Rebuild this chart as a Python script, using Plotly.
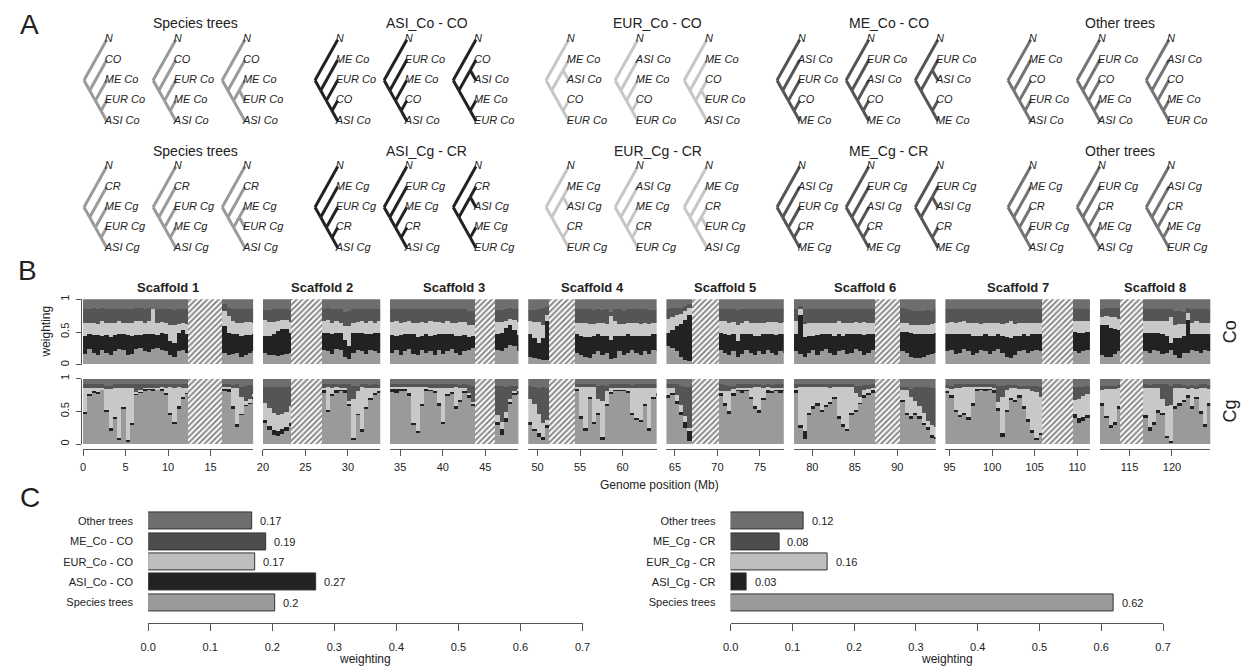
import plotly.graph_objects as go

W, H = 1249, 667
FONT = "Liberation Sans, Arial, Helvetica, sans-serif"
INK = "#222222"

# ------------------------------------------------------------------ Panel A data
TIP_LABELS = {
    "Co": {"N": "N", "O": "CO", "ME": "ME Co", "EUR": "EUR Co", "ASI": "ASI Co"},
    "Cg": {"N": "N", "O": "CR", "ME": "ME Cg", "EUR": "EUR Cg", "ASI": "ASI Cg"},
}
GROUP_TITLES = {
    "Co": ["Species trees", "ASI_Co - CO", "EUR_Co - CO", "ME_Co - CO", "Other trees"],
    "Cg": ["Species trees", "ASI_Cg - CR", "EUR_Cg - CR", "ME_Cg - CR", "Other trees"],
}
GROUP_COLORS = ["#9a9a9a", "#222222", "#c6c6c6", "#555555", "#747474"]
TREES = [
    [("N", ("O", ("ME", ("EUR", "ASI")))), ("N", ("O", ("EUR", ("ME", "ASI")))), ("N", ("O", (("ME", "EUR"), "ASI")))],
    [("N", ("ME", ("EUR", ("O", "ASI")))), ("N", ("EUR", ("ME", ("O", "ASI")))), ("N", (("O", "ASI"), ("ME", "EUR")))],
    [("N", (("ME", "ASI"), ("O", "EUR"))), ("N", ("ASI", ("ME", ("O", "EUR")))), ("N", ("ME", (("O", "EUR"), "ASI")))],
    [("N", ("ASI", ("EUR", ("O", "ME")))), ("N", ("EUR", ("ASI", ("O", "ME")))), ("N", (("EUR", "ASI"), ("O", "ME")))],
    [("N", ("ME", ("O", ("EUR", "ASI")))), ("N", ("EUR", ("O", ("ME", "ASI")))), ("N", ("ASI", ("O", ("ME", "EUR"))))],
]

# ------------------------------------------------------------------ Panel B data
SCAFFOLDS = ["Scaffold 1", "Scaffold 2", "Scaffold 3", "Scaffold 4",
             "Scaffold 5", "Scaffold 6", "Scaffold 7", "Scaffold 8"]
SCAF_START = [0.0, 20.0, 33.8, 48.9, 64.0, 77.8, 94.5, 111.5]
SCAF_END = [20.0, 33.8, 48.9, 64.0, 77.8, 94.5, 111.5, 124.5]
CEN_START = [12.4, 23.3, 43.8, 51.4, 67.0, 87.3, 105.9, 113.8]
CEN_END = [16.4, 26.9, 46.2, 54.4, 70.2, 90.3, 109.5, 116.6]
WIN = 0.5  # Mb per window
# weights in percent, one list per chromosome arm (S1 left, S1 right, S2 left, ...)
CO_SPECIES = [
    [16, 24, 18, 15, 22, 17, 15, 21, 24, 22, 15, 16, 24, 25, 21, 19, 24, 25, 22, 21, 14, 12, 20, 22, 18],
    [18, 14, 16, 18, 12, 15, 17, 20],
    [18, 15, 14, 13, 14, 16, 18],
    [22, 20, 16, 24, 22, 12, 8, 18, 22, 20, 16, 22, 20, 18],
    [18, 22, 15, 20, 24, 16, 14, 22, 18, 20, 15, 22, 16, 20, 24, 18, 14, 20, 22, 25],
    [22, 20, 25, 30, 28, 20],
    [12, 10, 8, 6, 6],
    [18, 14, 12, 10, 16, 20, 14, 18, 8, 10, 20, 14, 18, 22, 18, 14, 20, 16, 22, 20],
    [28, 25, 20, 12, 6, 5],
    [22, 18, 15, 20, 12, 16, 22, 18, 14, 20, 16, 22, 18, 15, 20, 18],
    [20, 16, 12, 18, 22, 15, 20, 24, 18, 14, 20, 22, 16, 18, 24, 20, 15, 18, 22],
    [20, 18, 12, 10, 10, 12, 14, 16, 18],
    [20, 22, 16, 18, 24, 20, 14, 18, 22, 20, 16, 20, 24, 18, 12, 10, 14, 20, 22, 18, 20, 22, 20],
    [20, 18, 20, 22],
    [14, 12, 12, 16, 20],
    [20, 18, 22, 20, 16, 18, 22, 14, 10, 18, 18, 22, 20, 18, 22, 20],
]
CO_ASI = [
    [28, 22, 27, 30, 22, 28, 27, 24, 22, 24, 30, 28, 21, 20, 25, 28, 22, 20, 26, 25, 22, 20, 28, 30, 28],
    [40, 34, 30, 28, 32, 30, 28, 26],
    [25, 28, 33, 38, 40, 38, 30],
    [26, 28, 30, 24, 26, 26, 20, 30, 26, 28, 30, 24, 28, 30],
    [27, 22, 30, 26, 22, 30, 28, 22, 28, 24, 30, 24, 30, 26, 22, 26, 30, 25, 20, 18],
    [25, 28, 30, 30, 25, 25],
    [35, 30, 25, 35, 60],
    [28, 30, 30, 32, 28, 26, 30, 26, 30, 34, 24, 30, 28, 22, 26, 30, 24, 28, 24, 26],
    [20, 28, 38, 50, 62, 70],
    [26, 28, 30, 26, 24, 30, 24, 28, 30, 24, 30, 25, 28, 30, 26, 28],
    [26, 60, 30, 26, 22, 30, 26, 22, 28, 30, 26, 22, 30, 28, 22, 26, 30, 28, 24],
    [30, 32, 36, 36, 36, 34, 32, 30, 30],
    [26, 25, 30, 28, 22, 26, 30, 26, 22, 26, 28, 24, 22, 26, 30, 30, 30, 24, 24, 26, 26, 24, 26],
    [30, 30, 28, 28],
    [46, 48, 44, 38, 32],
    [28, 30, 26, 28, 30, 26, 10, 26, 30, 26, 50, 24, 26, 28, 24, 26],
]
CO_EUR = [
    [20, 18, 19, 17, 22, 19, 21, 18, 20, 18, 19, 20, 21, 22, 18, 19, 38, 19, 17, 18, 24, 28, 14, 12, 16],
    [24, 26, 20, 18, 20, 20, 20, 18],
    [25, 22, 18, 15, 14, 14, 17],
    [18, 20, 18, 18, 16, 20, 30, 16, 17, 18, 18, 20, 16, 18],
    [20, 22, 18, 19, 20, 18, 22, 21, 18, 22, 20, 19, 18, 20, 18, 20, 21, 20, 18, 17],
    [18, 17, 12, 10, 15, 20],
    [20, 25, 32, 20, 10],
    [18, 20, 22, 20, 18, 18, 20, 18, 36, 22, 18, 18, 18, 20, 19, 18, 20, 18, 17, 18],
    [22, 20, 17, 15, 14, 12],
    [18, 20, 18, 19, 25, 18, 20, 18, 20, 20, 18, 18, 19, 20, 18, 19],
    [20, 8, 20, 20, 20, 19, 18, 18, 18, 20, 20, 20, 18, 18, 19, 18, 20, 18, 18],
    [14, 13, 13, 14, 14, 14, 15, 16, 16],
    [18, 18, 18, 19, 20, 18, 20, 20, 18, 18, 20, 20, 18, 18, 22, 26, 18, 20, 18, 20, 18, 18, 18],
    [16, 18, 18, 16],
    [12, 14, 16, 18, 18],
    [18, 18, 18, 18, 20, 22, 40, 20, 22, 18, 10, 18, 20, 18, 18, 18],
]
CO_ME = [
    [20, 21, 22, 22, 20, 21, 22, 21, 19, 21, 20, 21, 20, 19, 21, 20, 0, 20, 20, 21, 24, 23, 22, 21, 22],
    [10, 12, 18, 20, 20, 20, 20, 20],
    [15, 18, 20, 18, 17, 17, 18],
    [18, 18, 20, 18, 20, 22, 24, 20, 19, 18, 20, 18, 20, 18],
    [20, 19, 22, 20, 19, 21, 20, 20, 20, 19, 20, 20, 21, 19, 21, 20, 20, 19, 22, 22],
    [18, 18, 18, 16, 17, 19],
    [16, 18, 20, 25, 12],
    [20, 20, 20, 22, 21, 20, 19, 22, 6, 18, 22, 20, 20, 20, 21, 22, 20, 21, 20, 20],
    [15, 14, 12, 10, 8, 5],
    [19, 18, 21, 20, 22, 20, 18, 20, 20, 20, 21, 20, 20, 19, 21, 20],
    [18, 6, 22, 20, 20, 20, 20, 20, 20, 20, 18, 20, 20, 20, 19, 20, 19, 20, 20],
    [22, 22, 22, 22, 22, 22, 22, 20, 20],
    [20, 20, 21, 20, 19, 21, 20, 20, 22, 20, 21, 20, 20, 22, 20, 18, 22, 20, 20, 20, 20, 20, 20],
    [18, 19, 19, 19],
    [12, 12, 14, 14, 16],
    [18, 18, 18, 18, 18, 18, 12, 22, 20, 18, 8, 20, 18, 20, 20, 20],
]
CG_SPECIES = [
    [47, 75, 80, 78, 84, 50, 22, 40, 7, 55, 4, 30, 77, 80, 83, 84, 82, 84, 83, 76, 45, 32, 55, 70, 78],
    [82, 80, 55, 28, 45, 60, 62, 70],
    [32, 22, 15, 13, 16, 20, 28],
    [80, 50, 75, 80, 82, 80, 60, 8, 45, 20, 55, 68, 76, 78],
    [80, 78, 82, 83, 75, 30, 18, 60, 82, 83, 80, 60, 32, 75, 78, 55, 65, 80, 72, 60],
    [30, 15, 35, 62, 75, 78],
    [30, 20, 12, 6, 25],
    [82, 40, 22, 70, 32, 45, 8, 60, 78, 82, 83, 82, 80, 45, 38, 35, 60, 22, 70, 75],
    [72, 75, 62, 45, 25, 5],
    [75, 60, 48, 75, 82, 80, 82, 70, 55, 48, 68, 80, 78, 82, 80, 82],
    [80, 25, 8, 45, 55, 60, 50, 58, 62, 70, 40, 28, 20, 45, 50, 62, 72, 76, 80],
    [65, 45, 40, 45, 40, 30, 22, 10, 8],
    [78, 72, 50, 42, 45, 38, 60, 82, 84, 83, 84, 80, 52, 12, 50, 68, 65, 72, 55, 35, 18, 6, 15],
    [40, 32, 36, 40],
    [60, 40, 25, 30, 55],
    [40, 20, 30, 48, 45, 10, 3, 55, 60, 65, 72, 55, 70, 48, 28, 60],
]
CG_ASI = [
    [3, 2, 1, 2, 0, 2, 3, 2, 3, 2, 2, 2, 1, 1, 2, 1, 3, 0, 2, 3, 3, 3, 3, 2, 1],
    [4, 5, 3, 3, 2, 1, 1, 2],
    [6, 6, 7, 7, 8, 6, 5],
    [3, 3, 2, 3, 2, 3, 2, 2, 2, 3, 2, 3, 3, 5],
    [4, 6, 3, 2, 3, 3, 3, 2, 2, 1, 2, 3, 3, 2, 2, 3, 3, 2, 3, 2],
    [5, 8, 5, 3, 4, 3],
    [4, 4, 5, 6, 4],
    [3, 3, 3, 2, 3, 3, 3, 2, 2, 2, 1, 2, 2, 3, 3, 3, 2, 3, 2, 3],
    [3, 4, 4, 5, 10, 15],
    [3, 3, 3, 3, 2, 3, 2, 3, 3, 4, 3, 3, 4, 2, 3, 2],
    [3, 5, 12, 3, 3, 3, 3, 2, 3, 3, 3, 3, 4, 3, 3, 2, 3, 3, 3],
    [3, 3, 3, 3, 3, 3, 4, 4, 4],
    [4, 3, 3, 3, 3, 4, 3, 2, 1, 2, 1, 3, 3, 5, 3, 3, 3, 3, 3, 4, 4, 4, 3],
    [6, 8, 6, 5],
    [3, 4, 5, 4, 3],
    [5, 6, 5, 4, 3, 3, 2, 3, 3, 3, 3, 3, 3, 3, 3, 3],
]
CG_EUR = [
    [37, 10, 6, 7, 3, 33, 60, 45, 77, 30, 81, 55, 2, 2, 2, 2, 2, 3, 3, 8, 40, 52, 30, 15, 8],
    [2, 3, 28, 55, 25, 5, 6, 5],
    [25, 27, 26, 25, 22, 24, 25],
    [4, 35, 10, 5, 3, 4, 5, 60, 35, 65, 30, 15, 8, 3],
    [4, 4, 3, 3, 10, 55, 67, 26, 4, 3, 5, 24, 52, 10, 7, 30, 18, 5, 4, 3],
    [10, 12, 10, 5, 3, 4],
    [35, 38, 30, 20, 8],
    [3, 45, 63, 16, 53, 22, 55, 20, 6, 3, 3, 3, 5, 38, 46, 48, 24, 62, 15, 8],
    [12, 8, 10, 10, 8, 5],
    [4, 18, 30, 6, 3, 4, 3, 14, 30, 36, 15, 5, 4, 3, 4, 3],
    [4, 58, 68, 40, 30, 25, 35, 28, 22, 15, 45, 57, 64, 40, 25, 8, 8, 6, 4],
    [15, 35, 30, 18, 15, 15, 10, 15, 15],
    [4, 10, 34, 42, 40, 46, 25, 4, 3, 3, 3, 4, 10, 55, 30, 15, 18, 10, 26, 45, 60, 70, 55],
    [22, 30, 32, 32],
    [20, 40, 55, 50, 28],
    [42, 60, 52, 35, 22, 45, 55, 28, 24, 18, 10, 28, 12, 36, 55, 22],
]
CG_ME = [
    [5, 5, 5, 5, 5, 5, 5, 5, 5, 5, 5, 5, 12, 9, 5, 5, 5, 5, 5, 5, 4, 5, 4, 5, 5],
    [4, 4, 5, 6, 16, 24, 22, 13],
    [25, 33, 40, 43, 42, 38, 30],
    [5, 4, 5, 4, 5, 5, 25, 20, 8, 4, 5, 5, 5, 5],
    [4, 4, 4, 4, 4, 4, 4, 4, 4, 5, 5, 5, 5, 5, 5, 4, 5, 5, 12, 25],
    [45, 55, 38, 20, 8, 5],
    [20, 26, 40, 56, 50],
    [4, 4, 4, 4, 4, 20, 25, 8, 6, 5, 5, 5, 5, 5, 5, 6, 6, 5, 5, 5],
    [5, 5, 16, 30, 45, 63],
    [10, 10, 8, 6, 5, 5, 5, 5, 4, 4, 5, 4, 5, 5, 5, 5],
    [5, 4, 4, 4, 4, 4, 4, 4, 5, 4, 4, 4, 4, 4, 12, 18, 8, 6, 5],
    [5, 5, 12, 22, 30, 40, 52, 58, 60],
    [5, 5, 5, 5, 4, 4, 4, 4, 4, 4, 4, 5, 25, 18, 8, 5, 5, 5, 5, 5, 8, 10, 15],
    [20, 18, 14, 12],
    [6, 5, 5, 5, 5],
    [5, 5, 5, 5, 22, 34, 30, 6, 5, 5, 5, 5, 5, 5, 6, 6],
]
STACK_ORDER = ["species", "asi", "eur", "me", "other"]
STACK_COLORS = {"species": "#9a9a9a", "asi": "#222222", "eur": "#c8c8c8",
                "me": "#555555", "other": "#6e6e6e"}

# ------------------------------------------------------------------ Panel C data
C_CATS_CO = ["Species trees", "ASI_Co - CO", "EUR_Co - CO", "ME_Co - CO", "Other trees"]
C_VALS_CO = [0.204, 0.271, 0.172, 0.190, 0.167]
C_CATS_CG = ["Species trees", "ASI_Cg - CR", "EUR_Cg - CR", "ME_Cg - CR", "Other trees"]
C_VALS_CG = [0.620, 0.026, 0.157, 0.079, 0.118]
C_COLORS = ["#9a9a9a", "#222222", "#bebebe", "#4d4d4d", "#6e6e6e"]
C_TICKS = [0.0, 0.1, 0.2, 0.3, 0.4, 0.5, 0.6, 0.7]

# ------------------------------------------------------------------ helpers
def fx(px):
    return px / W


def fy(py):
    return 1 - py / H


fig = go.Figure()
annotations = []


def note(text, x, y, size, xref="paper", yref="paper", **kw):
    d = dict(text=text, x=x, y=y, xref=xref, yref=yref, showarrow=False,
             xanchor="center", yanchor="middle",
             font=dict(family=FONT, size=size, color=INK))
    d.update(kw)
    annotations.append(d)


# ------------------------------------------------------------------ Panel A
A_TIP_X0, GROUP_DX, TREE_DX = 100, 234, 70
XU, YU = 5.75, 20.5
ROW_TIP_Y0 = {"Co": 35, "Cg": 163}
ROW_TITLE_Y = {"Co": 18, "Cg": 147}
A_BOTTOM = 262


def tree_geometry(tree):
    tips, segs = [], []

    def rec(node):
        if isinstance(node, str):
            i = len(tips)
            tips.append(node)
            return 0.0, float(i), 1, i, i
        kids = [rec(c) for c in node]
        n = sum(k[2] for k in kids)
        lo = min(k[3] for k in kids)
        hi = max(k[4] for k in kids)
        x, y = -(n - 1.0), (lo + hi) / 2.0
        for k in kids:
            segs.append((x, y, k[0], k[1]))
        return x, y, n, lo, hi

    rec(tree)
    return tips, segs


for row in ["Co", "Cg"]:
    tx, ty, tt = [], [], []
    for g, group in enumerate(TREES):
        lx, ly = [], []
        for t, tree in enumerate(group):
            tip_px = A_TIP_X0 + g * GROUP_DX + t * TREE_DX
            tips, segs = tree_geometry(tree)
            for (x1, y1, x2, y2) in segs:
                lx += [tip_px + x1 * XU, tip_px + x2 * XU, None]
                ly += [ROW_TIP_Y0[row] + y1 * YU, ROW_TIP_Y0[row] + y2 * YU, None]
            for i, name in enumerate(tips):
                tx.append(tip_px - 2)
                ty.append(ROW_TIP_Y0[row] + i * YU)
                tt.append(TIP_LABELS[row][name])
        fig.add_trace(go.Scatter(x=lx, y=ly, mode="lines", xaxis="x", yaxis="y",
                                 line=dict(color=GROUP_COLORS[g], width=3),
                                 hoverinfo="skip", showlegend=False))
        note(GROUP_TITLES[row][g], A_TIP_X0 + g * GROUP_DX + 90, ROW_TITLE_Y[row], 14,
             xref="x", yref="y")
    fig.add_trace(go.Scatter(x=tx, y=ty, text=tt, mode="text", textposition="middle right",
                             textfont=dict(family=FONT, size=11, color=INK, style="italic"),
                             xaxis="x", yaxis="y", hoverinfo="skip", showlegend=False,
                             cliponaxis=False))

# ------------------------------------------------------------------ Panel B
K_PX, GAP_PX, B_X0 = 8.615, 9.9, 76
CO_TOP, CO_BOT, CG_TOP, CG_BOT, B_AXIS_Y = 297, 363, 377, 443, 448
ROWS = [("Co", {"species": CO_SPECIES, "asi": CO_ASI, "eur": CO_EUR, "me": CO_ME}, "y2"),
        ("Cg", {"species": CG_SPECIES, "asi": CG_ASI, "eur": CG_EUR, "me": CG_ME}, "y3")]

layout_axes = {}
for i in range(8):
    xa = "x%d" % (i + 2)
    left = B_X0 + SCAF_START[i] * K_PX + i * GAP_PX
    right = B_X0 + SCAF_END[i] * K_PX + i * GAP_PX
    ticks = [v for v in range(0, 130, 5) if SCAF_START[i] - 1e-6 <= v <= SCAF_END[i] - 0.5]
    layout_axes["xaxis%d" % (i + 2)] = dict(
        domain=[fx(left), fx(right)], range=[SCAF_START[i], SCAF_END[i]],
        anchor="free", position=fy(B_AXIS_Y), showgrid=False, zeroline=False,
        showline=True, linecolor="#555", linewidth=1, ticks="outside", ticklen=6,
        tickcolor="#555", tickvals=ticks, ticktext=[str(v) for v in ticks],
        ticklabelstandoff=2,
        tickfont=dict(family=FONT, size=11, color=INK), fixedrange=True)
    note("<b>%s</b>" % SCAFFOLDS[i], fx((left + right) / 2), fy(285), 13)
    for row, data, ya in ROWS:
        xs = []
        vals = {k: [] for k in STACK_ORDER}
        for arm in (2 * i, 2 * i + 1):
            start = SCAF_START[i] if arm % 2 == 0 else CEN_END[i]
            for j in range(len(data["species"][arm])):
                xs.append(start + WIN * (j + 0.5))
                tot = 0
                for k in ["species", "asi", "eur", "me"]:
                    vals[k].append(data[k][arm][j])
                    tot += data[k][arm][j]
                vals["other"].append(100 - tot)
        base = [0] * len(xs)
        for k in STACK_ORDER:
            fig.add_trace(go.Bar(x=xs, y=[v / 100 for v in vals[k]], base=[b / 100 for b in base],
                                 width=WIN, marker=dict(color=STACK_COLORS[k], line=dict(width=0)),
                                 xaxis=xa, yaxis=ya, hoverinfo="skip", showlegend=False))
            base = [b + v for b, v in zip(base, vals[k])]
        fig.add_trace(go.Bar(x=[(CEN_START[i] + CEN_END[i]) / 2], y=[1], base=[0],
                             width=CEN_END[i] - CEN_START[i],
                             marker=dict(color="white", line=dict(width=0),
                                         pattern=dict(shape="/", fgcolor="#111111", bgcolor="white",
                                                      size=4, solidity=0.5)),
                             xaxis=xa, yaxis=ya, hoverinfo="skip", showlegend=False))

for ya_name, top, bot in [("yaxis2", CO_TOP, CO_BOT), ("yaxis3", CG_TOP, CG_BOT)]:
    layout_axes[ya_name] = dict(
        domain=[fy(bot), fy(top)], range=[0, 1], anchor="free", position=fx(74),
        showgrid=False, zeroline=False, showline=True, linecolor="#555", linewidth=1,
        ticks="outside", ticklen=5, tickcolor="#555", tickvals=[0, 0.5, 1],
        ticktext=["0", "0.5", "1"], tickangle=-90, ticklabelstandoff=3,
        tickfont=dict(family=FONT, size=11, color=INK), fixedrange=True)

note("weighting", fx(39), fy(330), 12, textangle=-90)
note("Co", fx(1238), fy(330), 18, textangle=-90)
note("Cg", fx(1238), fy(410), 18, textangle=-90)
note("Genome position (Mb)", fx(660), fy(484), 12)

# ------------------------------------------------------------------ Panel C
C_TOP, C_BOT = 508, 624
C_ROW_PX = 20.5
y_lo = -(C_BOT - 603) / C_ROW_PX
y_hi = 4 + (521 - C_TOP) / C_ROW_PX
for n, (cats, vals, x0, x1) in enumerate([(C_CATS_CO, C_VALS_CO, 142, 582),
                                          (C_CATS_CG, C_VALS_CG, 732, 1170)]):
    xa, ya = "x%d" % (10 + n), "y%d" % (10 + n)
    fig.add_trace(go.Bar(x=vals, y=cats, orientation="h", width=0.83,
                         marker=dict(color=C_COLORS, line=dict(color="#333", width=1)),
                         xaxis=xa, yaxis=ya, hoverinfo="skip", showlegend=False))
    for v, c in zip(vals, cats):
        note("%g" % round(v, 2), v, c, 11, xref=xa, yref=ya, xanchor="left", xshift=6)
    layout_axes["xaxis%d" % (10 + n)] = dict(
        domain=[fx(x0), fx(x1)], range=[0, 0.7], anchor=ya, showgrid=False, zeroline=False,
        showline=True, linecolor="#555", linewidth=1, ticks="outside", ticklen=7,
        tickcolor="#555", tickvals=C_TICKS, ticktext=["%.1f" % t for t in C_TICKS],
        ticklabelstandoff=6,
        tickfont=dict(family=FONT, size=11, color=INK), fixedrange=True)
    layout_axes["yaxis%d" % (10 + n)] = dict(
        domain=[fy(C_BOT), fy(C_TOP)], range=[y_lo, y_hi], anchor=xa, type="category",
        showgrid=False, zeroline=False, showline=False, ticks="outside", ticklen=12,
        tickcolor="rgba(0,0,0,0)", tickfont=dict(family=FONT, size=11, color=INK),
        fixedrange=True)
    note("weighting", fx((x0 + x1) / 2), fy(660), 12)

# ------------------------------------------------------------------ panel letters
note("A", fx(22), fy(20), 28)
note("B", fx(20), fy(268), 28)
note("C", fx(22), fy(497), 28)

fig.update_layout(
    width=W, height=H, margin=dict(l=0, r=0, t=0, b=0),
    paper_bgcolor="white", plot_bgcolor="rgba(0,0,0,0)", barmode="overlay", bargap=0,
    showlegend=False, annotations=annotations,
    xaxis=dict(domain=[0, 1], range=[0, W], visible=False, fixedrange=True),
    yaxis=dict(domain=[fy(A_BOTTOM), 1], range=[A_BOTTOM, 0], visible=False, fixedrange=True),
    **layout_axes,
)
fig.write_html("out.html")
